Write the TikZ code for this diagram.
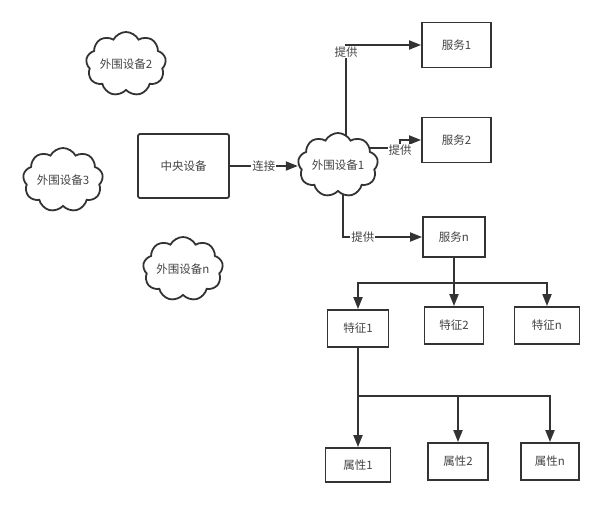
\documentclass[tikz,border=0pt]{standalone}
\usepackage{fontspec}
\setmainfont{Noto Sans CJK SC}
\usetikzlibrary{arrows.meta,shapes.symbols,backgrounds}
\definecolor{linec}{HTML}{333333}
\definecolor{textc}{HTML}{444444}
\begin{document}
\begin{tikzpicture}[x=1pt,y=-1pt,
  every node/.style={font=\fontsize{11.5}{13}\selectfont, text=textc},
  box/.style={draw=linec, line width=1.8pt, inner sep=0pt, fill=white},
  cloudnode/.style={cloud, cloud puffs=9, cloud puff arc=125, cloud ignores aspect,
    draw=linec, line width=1.8pt, fill=white, minimum width=80pt, minimum height=64pt, inner sep=0pt},
  conn/.style={draw=linec, line width=1.8pt, -{Triangle[length=12pt,width=9pt]}},
  plain/.style={draw=linec, line width=1.8pt},
  lab/.style={fill=white, inner sep=1pt}]
\useasboundingbox (0,0) rectangle (603,506);
% clouds
\node[cloudnode] (p2) at (126,64) {外围设备2};
\node[cloudnode] (p3) at (63,180) {外围设备3};
\node[cloudnode] (pn) at (183,269) {外围设备n};
\node[cloudnode] (p1) at (338,165) {外围设备1};
% central device
\node[box, rounded corners=2pt, minimum width=91pt, minimum height=64pt] (cb) at (183.5,166) {中央设备};
% services
\node[box, minimum width=69pt, minimum height=45pt] (s1) at (456.5,45) {服务1};
\node[box, minimum width=69pt, minimum height=45pt] (s2) at (456.5,140) {服务2};
\node[box, minimum width=62pt, minimum height=40pt] (sn) at (454,237) {服务n};
% characteristics
\node[box, minimum width=61pt, minimum height=37pt] (f1) at (358,328.5) {特征1};
\node[box, minimum width=59pt, minimum height=37pt] (f2) at (454,325.5) {特征2};
\node[box, minimum width=65pt, minimum height=37pt] (fn) at (547,325.5) {特征n};
% attributes
\node[box, minimum width=65pt, minimum height=34pt] (a1) at (358,465) {属性1};
\node[box, minimum width=60pt, minimum height=37pt] (a2) at (458,461.5) {属性2};
\node[box, minimum width=58pt, minimum height=37pt] (an) at (550,461.5) {属性n};
\coordinate (b2) at (400,148);
\begin{scope}[on background layer]
\draw[conn] (cb.east) -- node[lab]{连接} (cb.east -| p1.west);
\draw[conn] ([xshift=8pt]p1.center) |- node[lab, pos=0.47]{提供} (s1.west);
\draw[plain] (b2 -| p1.center) -- (b2);
\draw[conn] (b2) |- (s2.west);
\node[lab] at ([yshift=-2pt]b2) {提供};
\draw[conn] ([xshift=5pt]p1.center) |- node[lab, pos=0.625]{提供} (sn.west);
\draw[conn] (sn.south) -- ++(0,25) -| (f1.north);
\draw[conn] (sn.south) -- (sn.south |- f2.north);
\draw[conn] (sn.south) -- ++(0,25) -| (fn.north);
\draw[conn] (f1.south) -- (f1.south |- a1.north);
\draw[conn] (f1.south) -- ++(0,48) -| (a2.north);
\draw[conn] (f1.south) -- ++(0,48) -| (an.north);
\end{scope}
\end{tikzpicture}
\end{document}
